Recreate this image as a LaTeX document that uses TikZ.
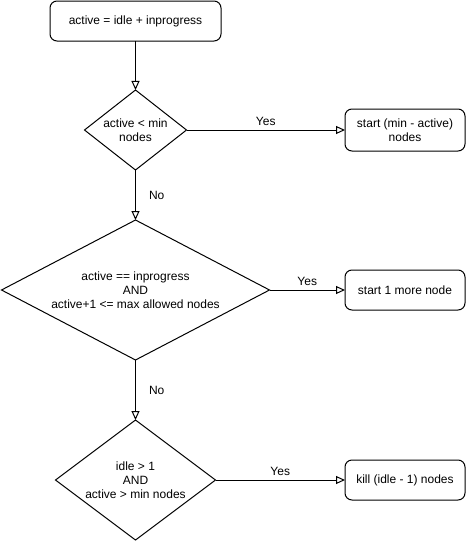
\documentclass[tikz,border=0pt]{standalone}
\usepackage{fontspec}
\setmainfont{Liberation Sans}
\usetikzlibrary{shapes.geometric,arrows.meta}
\begin{document}
\begin{tikzpicture}[x=1pt,y=-1pt,
  every node/.style={font=\fontsize{12}{14}\selectfont},
  procbox/.style={draw,line width=1pt,rounded corners=7pt,align=center,inner sep=0pt,outer sep=0pt},
  decision/.style={draw,line width=1pt,diamond,align=center,inner sep=0pt,outer sep=0pt},
  flow/.style={draw,line width=1pt,-{Triangle[open,length=9pt,width=8pt]}},
  lbl/.style={inner sep=1pt}
]
\useasboundingbox (0,0) rectangle (466,541);
\node[procbox,minimum width=171pt,minimum height=40pt] (init) at (135.5,21) {active = idle + inprogress};
\node[decision,minimum width=102pt,minimum height=80pt,aspect=1.275] (d1) at (135.5,130) {active < min\\nodes};
\node[procbox,minimum width=120pt,minimum height=42pt] (b1) at (405,130) {start (min - active)\\nodes};
\node[decision,minimum width=268pt,minimum height=140pt,aspect=1.914] (d2) at (135.5,290) {active == inprogress\\AND\\active+1 <= max allowed nodes};
\node[procbox,minimum width=120pt,minimum height=40pt] (b2) at (405,290) {start 1 more node};
\node[decision,minimum width=160pt,minimum height=120pt,aspect=1.333] (d3) at (135.5,480) {idle > 1\\AND\\active > min nodes};
\node[procbox,minimum width=120pt,minimum height=40pt] (b3) at (405,480) {kill (idle - 1) nodes};
\draw[flow] (init) -- (d1);
\draw[flow] (d1) -- node[lbl,above=3pt] {Yes} (b1);
\draw[flow] (d1) -- node[lbl,right=12pt] {No} (d2);
\draw[flow] (d2) -- node[lbl,above=3pt] {Yes} (b2);
\draw[flow] (d2) -- node[lbl,right=12pt] {No} (d3);
\draw[flow] (d3) -- node[lbl,above=3pt] {Yes} (b3);
\end{tikzpicture}
\end{document}
